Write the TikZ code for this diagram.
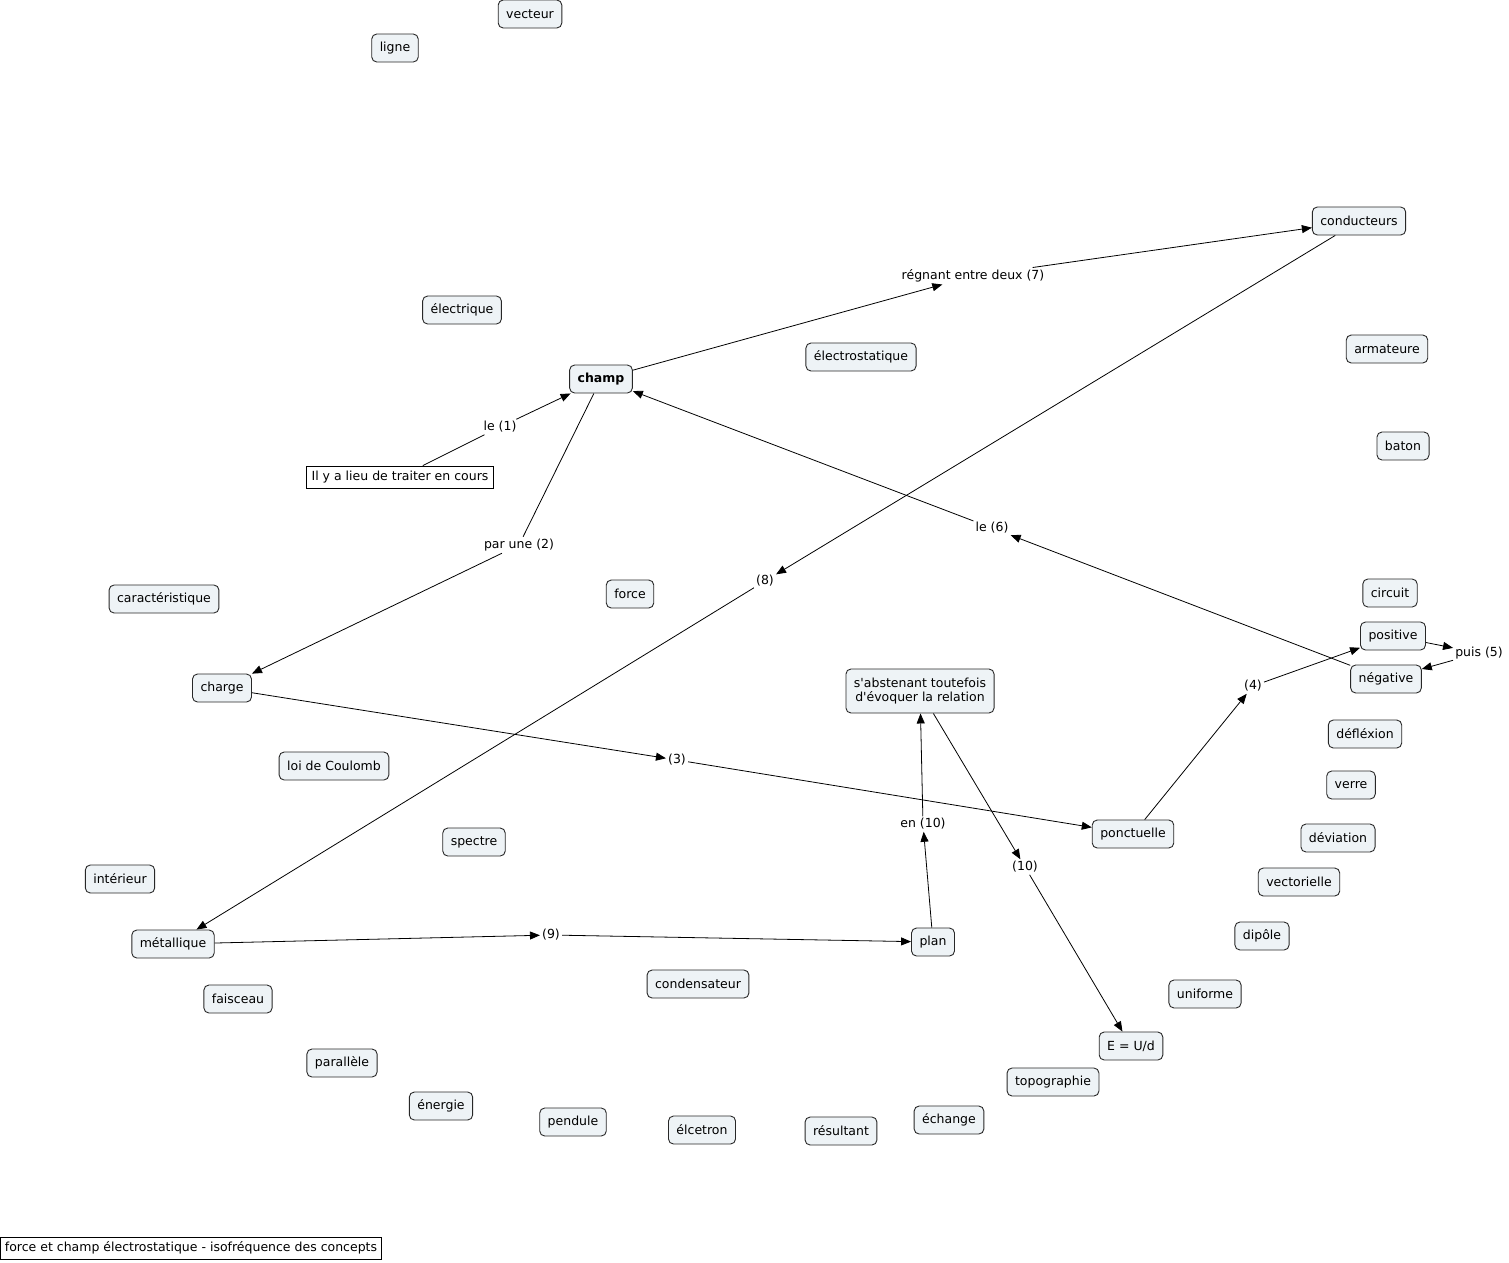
\documentclass[tikz,border=0pt]{standalone}
\usepackage{fontspec}
\setmainfont{DejaVu Sans}[Ligatures=TeXOff]
\usetikzlibrary{arrows.meta}
\definecolor{cfill}{RGB}{238,243,246}
\definecolor{cborder}{RGB}{40,40,40}
\tikzset{
  txt/.style={font=\fontsize{12.5}{14.5}\selectfont},
  concept/.style={txt, draw=cborder, fill=cfill, rounded corners=5pt, line width=0.9pt,
    inner xsep=8pt, inner ysep=0pt, minimum height=28pt, align=center},
  plainbox/.style={txt, draw=black, fill=white, line width=0.9pt, inner xsep=4pt, inner ysep=0pt,
    minimum height=22pt},
  lbl/.style={txt, inner sep=2pt},
  conn/.style={line width=0.8pt, draw=black},
  arr/.style={conn, -{Triangle[length=10pt,width=8pt]}}
}
\begin{document}
\begin{tikzpicture}[x=1pt,y=-1pt]
\useasboundingbox (0,0) rectangle (1509,1262);
% concepts
\node[concept] (vecteur) at (530,14) {vecteur};
\node[concept] (ligne) at (395,48) {ligne};
\node[concept] (conducteurs) at (1359,221) {conducteurs};
\node[concept] (electrique) at (462,310) {électrique};
\node[concept] (electrostatique) at (861,357) {électrostatique};
\node[concept] (armateure) at (1387,349) {armateure};
\node[concept, font=\fontsize{12.5}{14.5}\selectfont\bfseries] (champ) at (601,379) {champ};
\node[concept] (baton) at (1403,446) {baton};
\node[plainbox, inner xsep=5.5pt] (cours) at (400,477) {Il y a lieu de traiter en cours};
\node[concept] (caracteristique) at (164,599) {caractéristique};
\node[concept] (force) at (630,594) {force};
\node[concept] (circuit) at (1390,593) {circuit};
\node[concept] (positive) at (1393,636) {positive};
\node[concept] (negative) at (1386,679) {négative};
\node[concept] (charge) at (222,688) {charge};
\node[concept, minimum height=44pt] (abst) at (920,691) {s'abstenant toutefois\\ d'évoquer la relation};
\node[concept] (deflexion) at (1365,734) {défléxion};
\node[concept] (coulomb) at (334,766) {loi de Coulomb};
\node[concept] (verre) at (1351,785) {verre};
\node[concept] (ponctuelle) at (1133,834) {ponctuelle};
\node[concept] (deviation) at (1338,838) {déviation};
\node[concept] (spectre) at (474,842) {spectre};
\node[concept] (interieur) at (120,879) {intérieur};
\node[concept] (vectorielle) at (1299,882) {vectorielle};
\node[concept] (metallique) at (173,944) {métallique};
\node[concept] (plan) at (933,942) {plan};
\node[concept] (dipole) at (1262,936) {dipôle};
\node[concept] (condensateur) at (698,984) {condensateur};
\node[concept] (faisceau) at (238,999) {faisceau};
\node[concept] (uniforme) at (1205,994) {uniforme};
\node[concept] (eud) at (1131,1046) {E = U/d};
\node[concept] (parallele) at (342,1063) {parallèle};
\node[concept] (topographie) at (1053,1082) {topographie};
\node[concept] (energie) at (441,1106) {énergie};
\node[concept] (pendule) at (573,1122) {pendule};
\node[concept] (echange) at (949,1120) {échange};
\node[concept] (elcetron) at (702,1130) {élcetron};
\node[concept] (resultant) at (841,1131) {résultant};
\node[plainbox] (footer) at (191,1248) {force et champ électrostatique - isofréquence des concepts};
% linking phrases
\node[lbl] (l1) at (500,427) {le (1)};
\node[lbl] (l2) at (519,545) {par une (2)};
\node[lbl] (l3) at (677,760) {(3)};
\node[lbl] (l4) at (1253,686) {(4)};
\node[lbl] (l5) at (1479,653) {puis (5)};
\node[lbl] (l6) at (992,528) {le (6)};
\node[lbl] (l7) at (973,276) {régnant entre deux (7)};
\node[lbl] (l8) at (765,581) {(8)};
\node[lbl] (l9) at (551,935) {(9)};
\node[lbl] (l10a) at (923,824) {en (10)};
\node[lbl] (l10b) at (1025,867) {(10)};
% connectors
\draw[conn] (cours) -- (l1);
\draw[arr] (l1) -- (champ);
\draw[conn] (champ) -- (l2);
\draw[arr] (l2) -- (charge);
\draw[arr] (champ) -- (l7);
\draw[arr] (l7) -- (conducteurs);
\draw[arr] (conducteurs) -- (l8);
\draw[arr] (l8) -- (metallique);
\draw[arr] (charge) -- (l3);
\draw[arr] (l3) -- (ponctuelle);
\draw[arr] (ponctuelle) -- (l4);
\draw[arr] (l4) -- (positive);
\draw[arr] (positive) -- (l5);
\draw[arr] (l5) -- (negative);
\draw[arr] (negative) -- (l6);
\draw[arr] (l6) -- (champ);
\draw[arr] (metallique) -- (l9);
\draw[arr] (l9) -- (plan);
\draw[arr] (plan) -- (l10a);
\draw[arr] (l10a) -- (abst);
\draw[arr] (abst) -- (l10b);
\draw[arr] (l10b) -- (eud);
\end{tikzpicture}
\end{document}
